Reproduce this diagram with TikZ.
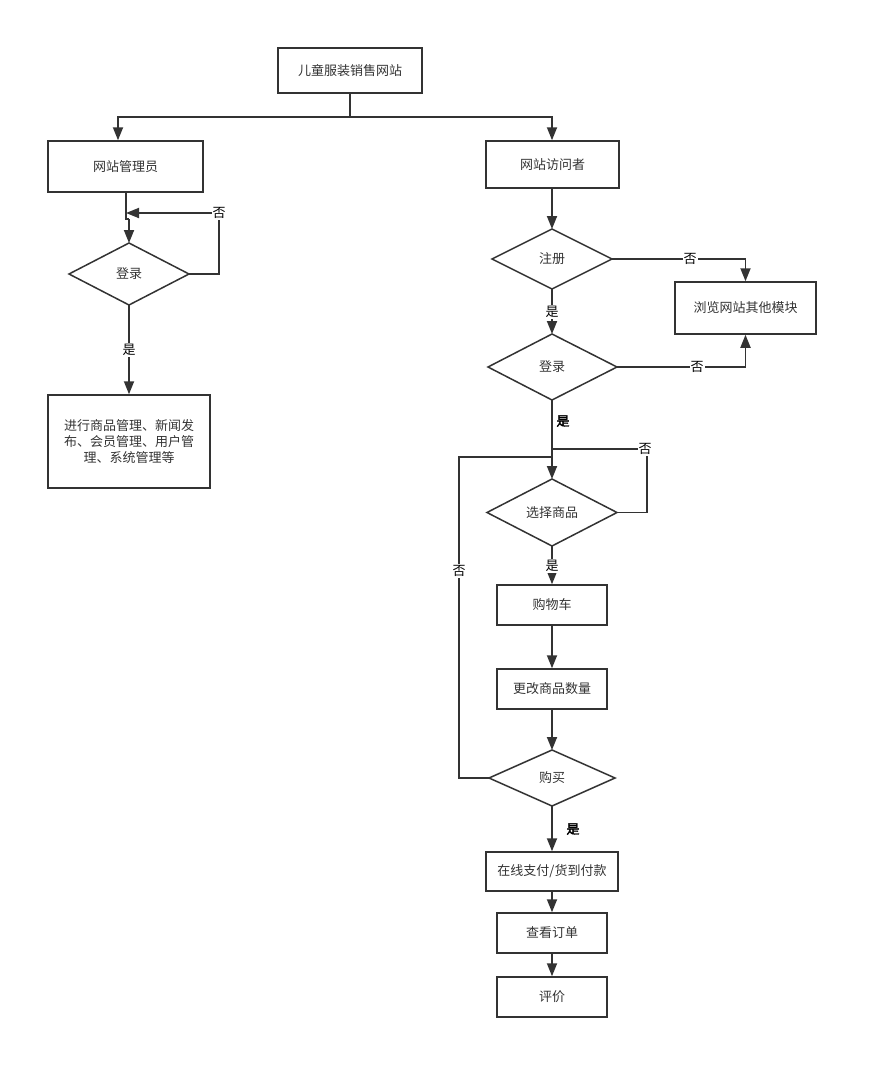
\documentclass[tikz,border=0pt]{standalone}
\usepackage{fontspec}
\setmainfont{Noto Sans CJK SC}
\newfontfamily\cjkbold[FakeBold=2.5]{Noto Sans CJK SC}
\usetikzlibrary{arrows.meta,shapes.geometric}
\definecolor{ln}{HTML}{333333}
\tikzset{
  box/.style={draw=ln, line width=1.5pt, rectangle, minimum width=#1, inner sep=0pt, font=\fontsize{13}{15}\selectfont, text=ln},
  dtext/.style={font=\fontsize{13}{15}\selectfont, text=ln},
  dshape/.style={draw=ln, line width=1.5pt},
  conn/.style={draw=ln, line width=1.8pt, -{Triangle[length=13pt,width=10pt]}},
  plain/.style={draw=ln, line width=1.8pt},
  lbl/.style={fill=white, inner sep=1pt, font=\fontsize{13}{15}\selectfont, text=black},
  blbl/.style={inner sep=1pt, font=\fontsize{13}{15}\selectfont\cjkbold, text=black}
}
\begin{document}
\begin{tikzpicture}[x=1pt,y=-1pt]
\useasboundingbox (0,0) rectangle (877,1079);
% nodes
\node[box=144pt, minimum height=45pt] (top) at (350,70.5) {儿童服装销售网站};
\node[box=155pt, minimum height=51pt] (adm) at (125.5,166.5) {网站管理员};
\node[box=133pt, minimum height=47pt] (vis) at (552.5,164.5) {网站访问者};
% admin diamond
\draw[dshape] (69,274) -- (129,243) -- (189,274) -- (129,305) -- cycle;
\node[dtext] (dl) at (129,274) {登录};
\coordinate (dlT) at (129,243);
\coordinate (dlR) at (189,274);
\coordinate (dlB) at (129,305);
\node[box=162pt, minimum height=93pt, align=center, font=\fontsize{13}{16}\selectfont] (mgmt) at (129,441.5) {进行商品管理、新闻发\\布、会员管理、用户管\\理、系统管理等};
% right diamonds
\draw[dshape] (492,259) -- (552,229) -- (612,259) -- (552,289) -- cycle;
\node[dtext] (reg) at (552,259) {注册};
\coordinate (regT) at (552,229); \coordinate (regR) at (612,259); \coordinate (regB) at (552,289);
\node[box=141pt, minimum height=52pt] (browse) at (745.5,308) {浏览网站其他模块};
\draw[dshape] (488,367) -- (552,334) -- (617,367) -- (552,400) -- cycle;
\node[dtext] (login) at (552,367) {登录};
\coordinate (logT) at (552,334); \coordinate (logR) at (617,367); \coordinate (logB) at (552,400);
\draw[dshape] (487,512.5) -- (552,479) -- (617,512.5) -- (552,546) -- cycle;
\node[dtext] (sel) at (552,512.5) {选择商品};
\coordinate (selT) at (552,479); \coordinate (selR) at (617,512.5); \coordinate (selB) at (552,546);
\node[box=110pt, minimum height=40pt] (cart) at (552,605) {购物车};
\node[box=110pt, minimum height=40pt] (qty) at (552,689) {更改商品数量};
\draw[dshape] (489,778) -- (552,750) -- (615,778) -- (552,806) -- cycle;
\node[dtext] (buy) at (552,778) {购买};
\coordinate (buyT) at (552,750); \coordinate (buyL) at (489,778); \coordinate (buyB) at (552,806);
\node[box=132pt, minimum height=39pt] (pay) at (552,871.5) {在线支付/货到付款};
\node[box=110pt, minimum height=40pt] (order) at (552,933) {查看订单};
\node[box=110pt, minimum height=40pt] (rate) at (552,997) {评价};
% connectors top
\coordinate (bar) at (350,117);
\draw[plain] (top.south) -- (bar);
\draw[conn] (bar) -| (adm.north -| 118,0);
\draw[conn] (bar) -| (vis.north -| regT);
% admin
\coordinate (j1) at (126,213);
\draw[plain] (adm.south -| j1) -- (126,219) -- (129,219);
\draw[conn] (129,219) -- (dlT);
\draw[conn] (dlR) -- (219,274) -- (219,213) -- (j1);
\node[lbl] at (219,213) {否};
\draw[conn] (dlB) -- (mgmt.north);
\node[lbl] at (129,350) {是};
% visitor
\draw[conn] (vis.south -| regT) -- (regT);
\draw[conn] (regR) -| (browse.north);
\node[lbl] at (690,259) {否};
\draw[conn] (regB) -- (logT);
\node[lbl] at (552,312) {是};
\draw[conn] (logR) -| (browse.south);
\node[lbl] at (697,367) {否};
\draw[conn] (logB) -- (selT);
\node[blbl] at (563,421) {是};
\coordinate (j2) at (552,449);
\draw[plain] (selR) -- (647,512.5) -- (647,449) -- (j2);
\node[lbl] at (645,449) {否};
\coordinate (j3) at (552,457);
\draw[plain] (buyL) -- (459,778) -- (459,457) -- (j3);
\node[lbl] at (459,571) {否};
\draw[conn] (selB) -- (cart.north);
\node[lbl] at (552,566) {是};
\draw[conn] (cart.south) -- (qty.north);
\draw[conn] (qty.south) -- (buyT);
\draw[conn] (buyB) -- (pay.north);
\node[blbl] at (573,829) {是};
\draw[conn] (pay.south) -- (order.north);
\draw[conn] (order.south) -- (rate.north);
\end{tikzpicture}
\end{document}
